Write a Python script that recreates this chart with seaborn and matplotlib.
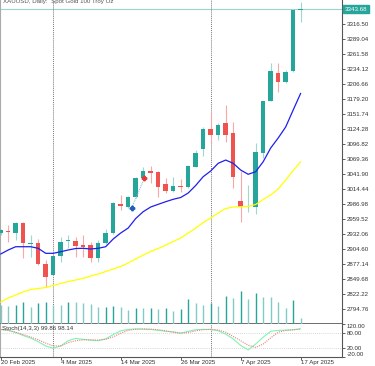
import matplotlib
matplotlib.use("Agg")
import numpy as np
import pandas as pd
import matplotlib.pyplot as plt
import seaborn as sns

# XAUUSD daily bars, 20 Feb 2025 .. 17 Apr 2025
opens = [2934.4, 2938.6, 2935.0, 2953.2, 2914.6, 2916.6, 2877.6, 2857.5, 2892.3, 2919.2,
         2919.7, 2912.4, 2912.4, 2888.1, 2915.5, 2933.8, 2988.0, 2982.5, 3000.8, 3034.5,
         3047.9, 3045.5, 3024.1, 3011.8, 3021.0, 3018.1, 3055.8, 3087.6, 3124.3, 3113.8,
         3135.2, 3116.9, 2993.5, 2986.6, 2982.5, 3081.4, 3176.6, 3227.9, 3211.4, 3231.0,
         3343.2]
highs = [2942.0, 2949.0, 2955.1, 2954.5, 2930.7, 2923.4, 2884.9, 2892.8, 2927.6, 2930.7,
         2927.6, 2930.7, 2918.5, 2921.6, 2941.7, 2991.7, 3003.9, 3002.1, 3037.5, 3054.7,
         3057.1, 3047.9, 3034.5, 3037.5, 3032.7, 3058.9, 3086.4, 3129.0, 3155.9, 3135.2,
         3168.7, 3138.2, 3047.9, 3022.3, 3099.7, 3176.6, 3245.1, 3246.2, 3232.8, 3344.5,
         3357.9]
lows = [2931.0, 2918.5, 2921.6, 2888.0, 2891.0, 2875.8, 2835.5, 2856.6, 2881.8, 2906.9,
        2891.0, 2891.0, 2881.8, 2881.3, 2914.2, 2932.5, 2976.5, 2979.6, 2998.5, 3031.4,
        3025.4, 3000.3, 3008.2, 3010.0, 3010.0, 3016.8, 3054.7, 3075.4, 3100.1, 3104.7,
        3101.5, 3016.2, 2955.1, 2973.4, 2969.2, 3071.2, 3176.6, 3193.1, 3209.6, 3229.2,
        3321.3]
closes = [2939.9, 2935.7, 2953.2, 2915.5, 2915.5, 2877.6, 2854.4, 2892.3, 2917.9, 2919.7,
          2910.6, 2908.2, 2889.2, 2915.5, 2933.8, 2988.8, 2983.8, 3001.2, 3034.5, 3047.9,
          3044.8, 3019.2, 3011.8, 3020.4, 3019.5, 3057.1, 3081.4, 3124.8, 3113.8, 3132.1,
          3113.8, 3036.4, 2982.5, 2987.5, 3083.2, 3176.6, 3231.0, 3211.4, 3229.7, 3343.6,
          3343.68]
volumes = [19000, 18300, 19300, 21600, 16600, 20600, 21600, 19300, 19300, 21600,
           21600, 21000, 20000, 16600, 17300, 18300, 17300, 14000, 15600, 15600,
           16000, 14600, 15600, 13300, 15000, 25000, 20600, 19300, 20600, 17600,
           27600, 26000, 32600, 25000, 30600, 27300, 26600, 22300, 16000, 24300,
           5600]
ma_fast = [2895.9, 2903.3, 2909.3, 2909.3, 2909.3, 2906.4, 2897.2, 2897.2, 2900.1, 2903.3,
           2906.0, 2906.4, 2905.1, 2906.4, 2909.3, 2923.4, 2934.4, 2943.5, 2960.9, 2973.4,
           2982.0, 2986.9, 2991.7, 2996.1, 2999.4, 3007.6, 3021.4, 3037.5, 3047.9, 3062.0,
           3068.0, 3062.0, 3049.7, 3041.9, 3046.6, 3064.9, 3090.0, 3108.3, 3128.5, 3159.6,
           3190.2]
ma_slow = [2808.0, 2815.4, 2820.9, 2826.4, 2830.9, 2832.8, 2834.6, 2838.3, 2841.9, 2845.6,
           2848.3, 2851.4, 2855.6, 2859.3, 2863.9, 2868.5, 2873.0, 2879.5, 2886.8, 2894.1,
           2900.5, 2906.0, 2912.4, 2918.8, 2925.2, 2934.4, 2943.5, 2953.6, 2961.8, 2971.0,
           2979.2, 2982.0, 2982.5, 2982.9, 2986.6, 2995.7, 3004.0, 3015.0, 3031.4, 3048.8,
           3064.9]
stoch_k = [97, 93, 84, 71, 60, 45, 27, 17, 27, 49,
           59, 55, 51, 49, 57, 75, 91, 97, 99, 98,
           97, 93, 89, 87, 81, 89, 96, 97, 97, 91,
           77, 57, 29, 10, 35, 64, 89, 93, 94, 96,
           99.86]
stoch_d = [97, 93, 85, 75, 65, 53, 39, 27, 27, 41,
           49, 53, 53, 52, 55, 65, 81, 93, 98, 99,
           98, 96, 91, 85, 81, 84, 91, 96, 97, 95,
           85, 67, 49, 30, 21, 35, 61, 85, 93, 95,
           98.14]

date_ticks = [0, 8, 16, 24, 32, 40]
date_labels = ["20 Feb 2025", "4 Mar 2025", "14 Mar 2025", "26 Mar 2025", "7 Apr 2025", "17 Apr 2025"]
month_starts = [7, 28]
price_ticks = [2794.76, 2822.22, 2849.68, 2877.14, 2904.60, 2932.06, 2959.52, 2986.98, 3014.44,
               3041.90, 3069.36, 3096.82, 3124.28, 3151.74, 3179.20, 3206.66, 3234.12, 3261.58,
               3289.04, 3316.50]
last_price = 3343.68
trade_x = [17.47, 19.15]
trade_y = [2980.7, 3034.5]

UP, DOWN = "#26a69a", "#ef5350"
UP_WICK, DOWN_WICK = "#9fd8cf", "#f7a9a9"

df = pd.DataFrame({"o": opens, "h": highs, "l": lows, "c": closes, "v": volumes,
                   "ma_fast": ma_fast, "ma_slow": ma_slow, "k": stoch_k, "d": stoch_d})
df["i"] = np.arange(len(df))

sns.set_style("white")
plt.rcParams["font.family"] = ["Liberation Sans", "DejaVu Sans"]
FS = 4.4

fig = plt.figure(figsize=(3.75, 3.66), dpi=100)
ax = fig.add_axes([0, 42 / 366, 342 / 375, 324 / 366])
ax_st = fig.add_axes([0, 9 / 366, 342 / 375, 33 / 366], sharex=ax)
ax_v = ax.twinx()

# volumes in the bottom of the main window
vol_col = [UP if i > 0 and v > volumes[i - 1] else "#80cbc4" for i, v in enumerate(volumes)]
ax_v.vlines(df["i"], 0, df["v"], colors=vol_col, linewidth=1.0)
ax_v.set_ylim(0, 324000)
ax_v.set_yticks([])
for s in ax_v.spines.values():
    s.set_visible(False)

# candles
up = df["c"] >= df["o"]
ax.vlines(df["i"], df["l"], df["h"], colors=np.where(up, UP_WICK, DOWN_WICK), linewidth=0.8, zorder=2)
body = np.maximum((df["c"] - df["o"]).abs(), 1.5)
ax.bar(df["i"], body, bottom=np.minimum(df["o"], df["c"]), width=0.6,
       color=np.where(up, UP, DOWN), linewidth=0, zorder=3)

sns.lineplot(x=df["i"], y=df["ma_fast"], ax=ax, color="#1f1fef", linewidth=0.9, zorder=4)
sns.lineplot(x=df["i"], y=df["ma_slow"], ax=ax, color="#ffff00", linewidth=0.9, zorder=4)

# trade markers
ax.plot(trade_x, trade_y, color="#7fb0e0", linestyle=(0, (1, 1)), linewidth=0.7, zorder=5)
ax.plot(trade_x[0], trade_y[0], marker="P", color="#1e5fbf", markersize=3.2, zorder=6)
ax.plot(trade_x[1], trade_y[1], marker="P", color="#e53935", markersize=3.2, zorder=6)

ax.axhline(last_price, color="#9ad5cc", linewidth=0.8, zorder=1)
ax.annotate(f"{last_price:.2f}", xy=(1, last_price), xycoords=("axes fraction", "data"),
            xytext=(2, 0), textcoords="offset points", va="center", ha="left",
            fontsize=FS, color="white", annotation_clip=False,
            bbox=dict(boxstyle="square,pad=0.25", facecolor="#26a69a", edgecolor="#26a69a"))

ax.set_xlim(-0.093, 45.51)
ax.set_ylim(2767.8, 3361.0)
ax.yaxis.tick_right()
ax.set_yticks(price_ticks)
ax.set_yticklabels([f"{p:.2f}" for p in price_ticks])
ax.tick_params(axis="y", direction="out", length=2, width=0.6, pad=1.5, labelsize=FS,
               labelcolor="#333333", color="#444444", right=True)
ax.tick_params(axis="x", bottom=False, labelbottom=False)
ax.set_xlabel("")
ax.set_ylabel("")

for a in (ax, ax_st):
    for xv in month_starts:
        a.axvline(xv, color="#777777", linestyle=(0, (1, 1)), linewidth=0.7, zorder=1)
    a.spines["top"].set_visible(False)
    a.spines["left"].set_color("#aaaaaa")
    a.spines["right"].set_color("#555555")
    a.spines["bottom"].set_color("#555555")
    for s in a.spines.values():
        s.set_linewidth(0.8)
ax.spines["bottom"].set_linewidth(1.2)

# stochastic window
sns.lineplot(x=df["i"], y=df["k"], ax=ax_st, color="#7df5b2", linewidth=0.8)
sns.lineplot(x=df["i"], y=df["d"], ax=ax_st, color="#f08080", linewidth=0.8, linestyle=(0, (1, 1)))
for lv in (80, 20):
    ax_st.axhline(lv, color="#c8c8c8", linestyle=(0, (1, 1.5)), linewidth=0.6, zorder=0)
ax_st.set_ylim(-20, 120)
ax_st.yaxis.tick_right()
ax_st.set_yticks([120, 80, 20, -20])
ax_st.set_yticklabels(["120.00", "80.00", "20.00", "-20.00"])
ax_st.tick_params(axis="y", direction="out", length=2, width=0.6, pad=1.5, labelsize=FS,
                  labelcolor="#333333", color="#444444")
lbls = ax_st.get_yticklabels()
lbls[0].set_va("top")
lbls[3].set_va("bottom")
ax_st.text(0.006, 0.86, "Stoch(14,3,3) 99.86 98.14", transform=ax_st.transAxes,
           fontsize=FS, color="#333333", va="center", ha="left")

ax_st.set_xticks(date_ticks)
ax_st.set_xticklabels(date_labels, ha="left")
ax_st.tick_params(axis="x", direction="out", length=2, width=0.6, pad=0.5, labelsize=FS,
                  labelcolor="#333333", color="#444444", bottom=True)
ax_st.set_xlabel("")
ax_st.set_ylabel("")

fig.text(3 / 375, 1 - 1.2 / 366, "XAUUSD, Daily:  Spot Gold 100 Troy Oz", fontsize=FS,
         color="#555555", va="center", ha="left")

fig.savefig("out.png", dpi=100, facecolor="white")
